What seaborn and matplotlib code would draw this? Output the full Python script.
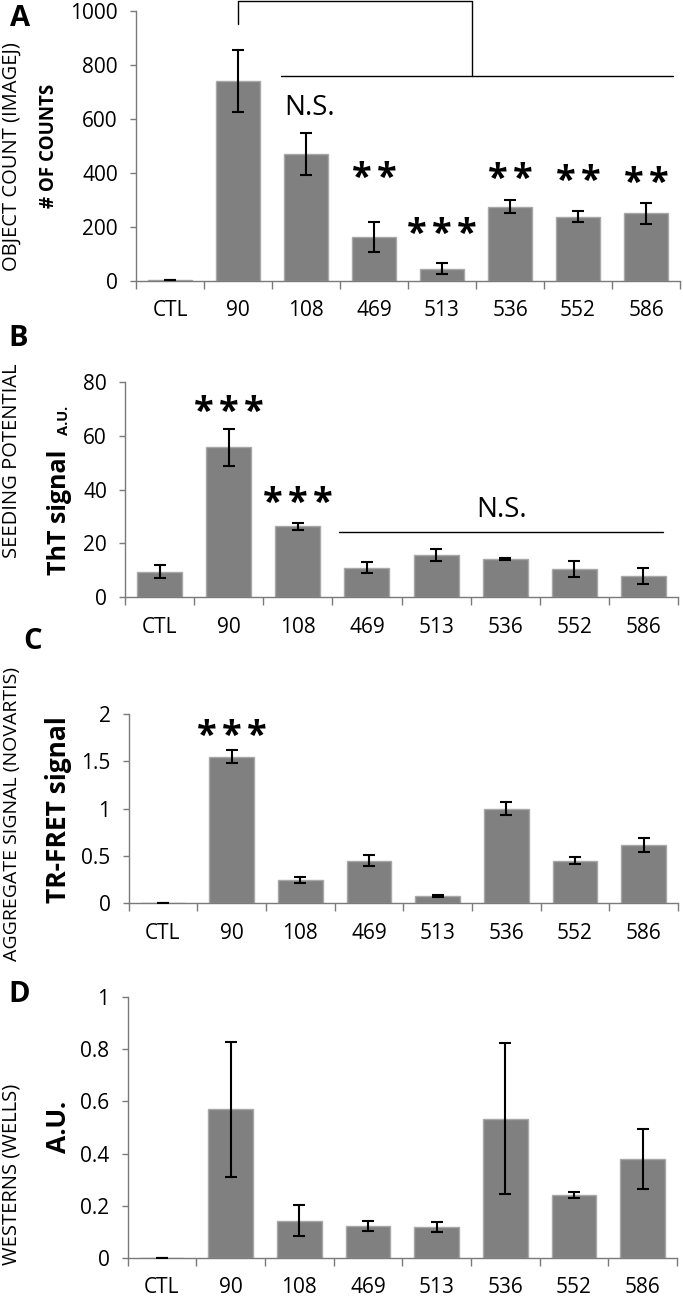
import numpy as np
import pandas as pd
import matplotlib
matplotlib.use("Agg")
import matplotlib.pyplot as plt
import seaborn as sns

# Data
groups = ["CTL", "90", "108", "469", "513", "536", "552", "586"]

counts = [3, 740, 470, 163, 45, 275, 238, 250]
counts_err = [0, 113, 78, 57, 20, 23, 20, 38]

tht = [9.4, 55.6, 26.3, 11.0, 15.7, 14.2, 10.6, 7.9]
tht_err = [2.4, 7.0, 1.3, 2.0, 2.2, 0.5, 3.0, 2.9]

fret = [0.005, 1.55, 0.245, 0.45, 0.08, 1.0, 0.45, 0.62]
fret_err = [0.003, 0.07, 0.03, 0.06, 0.01, 0.065, 0.04, 0.075]

wells = [0, 0.57, 0.142, 0.123, 0.117, 0.534, 0.24, 0.378]
wells_err = [0, 0.26, 0.06, 0.019, 0.019, 0.29, 0.011, 0.116]

sns.set_theme(style="white")
plt.rcParams["font.family"] = ["Open Sans", "DejaVu Sans"]
plt.rcParams["text.color"] = "black"
plt.rcParams["axes.labelcolor"] = "black"

bar_gray = "#808080"
edge_gray = "#a8a8a8"
axis_gray = "#7a7a7a"

W, H = 683, 1298
fig = plt.figure(figsize=(W / 100, H / 100), dpi=100)


def px_axes(left, top, right, bottom):
    return fig.add_axes([left / W, 1 - bottom / H, (right - left) / W, (bottom - top) / H])


def px_text(x, y, s, **kw):
    fig.text(x / W, 1 - y / H, s, **kw)


def draw_panel(ax, vals, errs, ymax, yticks, ylabels):
    df = pd.DataFrame({"group": groups, "value": vals})
    sns.barplot(data=df, x="group", y="value", ax=ax, color=bar_gray, width=0.65,
                edgecolor=edge_gray, linewidth=1, saturation=1, errorbar=None)
    ax.errorbar(np.arange(len(groups)), vals, yerr=errs, fmt="none", ecolor="black",
                elinewidth=1.5, capsize=4.5, capthick=1.5, zorder=5)
    ax.set_xlim(-0.5, len(groups) - 0.5)
    ax.set_ylim(0, ymax)
    ax.set_xticks(np.arange(-0.5, len(groups), 1))
    ax.set_xticklabels([])
    ax.set_xticks(np.arange(len(groups)), minor=True)
    ax.set_xticklabels(groups, minor=True)
    ax.tick_params(axis="x", which="major", length=6, direction="out", color=axis_gray, width=1, bottom=True)
    ax.tick_params(axis="x", which="minor", length=0, pad=14, labelsize=15, labelcolor="black", bottom=True)
    ax.set_yticks(yticks)
    ax.set_yticklabels(ylabels)
    ax.tick_params(axis="y", length=4, direction="out", color=axis_gray, width=1, pad=9,
                   labelsize=15, labelcolor="black", left=True)
    for side in ["top", "right"]:
        ax.spines[side].set_visible(False)
    for side in ["left", "bottom"]:
        ax.spines[side].set_color(axis_gray)
        ax.spines[side].set_linewidth(1)
    ax.set_xlabel("")
    ax.set_ylabel("")


def stars(ax, x, y, n):
    # spaced asterisks, one text per star
    for k in range(n):
        dx = (k - (n - 1) / 2) * 18
        ax.annotate("*", xy=(x, y), xytext=(dx, 0), textcoords="offset points",
                    ha="center", va="center", fontsize=26, fontweight="bold")


# --- Panel A ---
axA = px_axes(136, 10.7, 680, 281)
draw_panel(axA, counts, counts_err, 1000, [0, 200, 400, 600, 800, 1000],
           ["0", "200", "400", "600", "800", "1000"])
kw = dict(color="black", lw=1, clip_on=False)
axA.plot([1, 1, 4.44, 4.44], [952, 1035, 1035, 759], **kw)
axA.plot([1.63, 7.4], [759, 759], **kw)
axA.text(2.05, 640, "N.S.", ha="center", va="center", fontsize=20)
for xi, yi, n in [(3, 378, 2), (4, 172, 3), (5, 373, 2), (6, 366, 2), (7, 358, 2)]:
    stars(axA, xi, yi, n)

# --- Panel B ---
axB = px_axes(125, 381.7, 678, 597.3)
draw_panel(axB, tht, tht_err, 80, [0, 20, 40, 60, 80], ["0", "20", "40", "60", "80"])
axB.plot([2.6, 7.28], [24.2, 24.2], **kw)
axB.text(4.95, 32.4, "N.S.", ha="center", va="center", fontsize=20)
for xi, yi, n in [(1, 68.5, 3), (2, 34.5, 3)]:
    stars(axB, xi, yi, n)

# --- Panel C ---
axC = px_axes(128.5, 714, 678, 903.3)
draw_panel(axC, fret, fret_err, 2, [0, 0.5, 1, 1.5, 2], ["0", "0.5", "1", "1.5", "2"])
stars(axC, 1, 1.76, 3)

# --- Panel D ---
axD = px_axes(127.6, 997.3, 677, 1257.7)
draw_panel(axD, wells, wells_err, 1, [0, 0.2, 0.4, 0.6, 0.8, 1],
           ["0", "0.2", "0.4", "0.6", "0.8", "1"])

# --- Axis titles ---
px_text(12, 157, "OBJECT COUNT (IMAGEJ)", rotation=90, ha="center", va="center", fontsize=14.5)
px_text(49, 146, "# OF COUNTS", rotation=90, ha="center", va="center", fontsize=13.5, fontweight="bold")
px_text(12, 461, "SEEDING POTENTIAL", rotation=90, ha="center", va="center", fontsize=14.5)
px_text(59, 512, "ThT signal", rotation=90, ha="center", va="center", fontsize=18, fontweight="bold")
px_text(64, 420, "A.U.", rotation=90, ha="center", va="center", fontsize=10.5, fontweight="bold")
px_text(12, 814, "AGGREGATE SIGNAL (NOVARTIS)", rotation=90, ha="center", va="center", fontsize=14)
px_text(58, 810, "TR-FRET signal", rotation=90, ha="center", va="center", fontsize=19, fontweight="bold")
px_text(12, 1174, "WESTERNS (WELLS)", rotation=90, ha="center", va="center", fontsize=14.5)
px_text(58, 1127, "A.U.", rotation=90, ha="center", va="center", fontsize=19, fontweight="bold")

# --- Panel letters ---
for x, y, s in [(20, 18, "A"), (18, 338, "B"), (33, 641, "C"), (19, 995, "D")]:
    px_text(x, y, s, ha="center", va="center", fontsize=21, fontweight="bold")

fig.savefig("out.png", dpi=100)
